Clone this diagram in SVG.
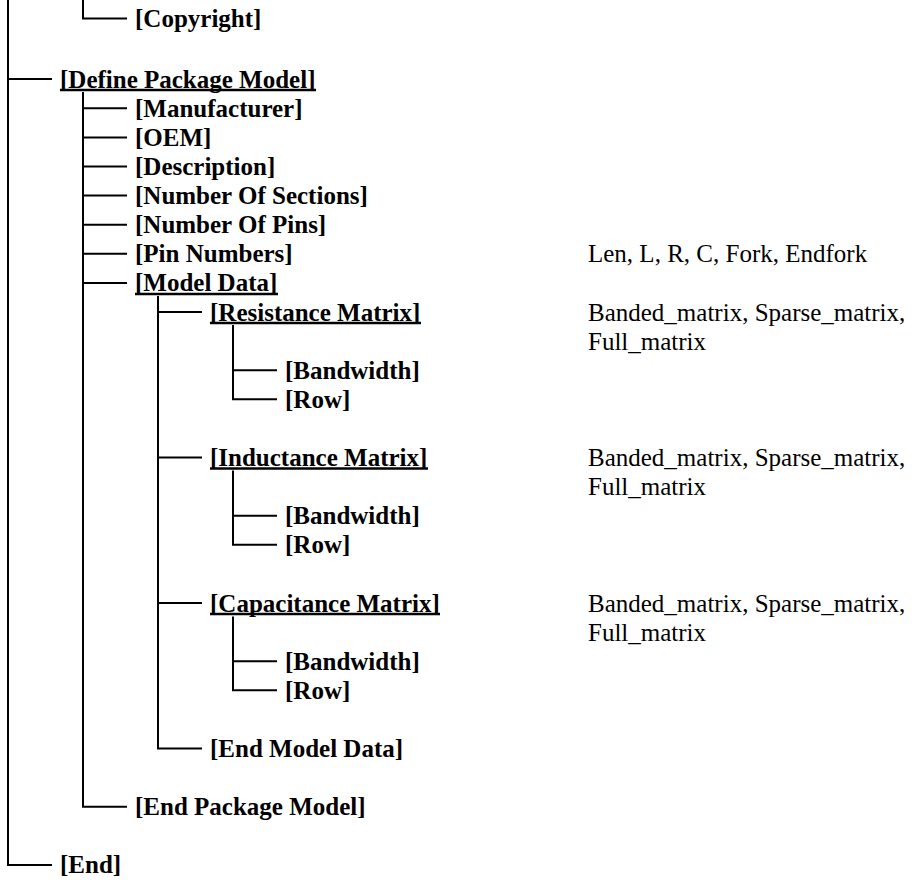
<svg xmlns="http://www.w3.org/2000/svg" width="912" height="880" viewBox="0 0 912 880">
<style>
.k{font-family:"Liberation Serif","Times New Roman",serif;font-size:25px;font-weight:bold;fill:#000}
.v{font-family:"Liberation Serif","Times New Roman",serif;font-size:25px;fill:#000}
.c{fill:none;stroke:#000;stroke-width:2}
.ul{stroke:#000;stroke-width:2.5}
</style>
<rect width="912" height="880" fill="#fff"/>
<g id="connectors" class="c">
<path d="M8 0V865H52"/>
<path d="M83 0V18.5H127"/>
<path d="M8 79H52"/>
<path d="M83 92V806.7H127"/>
<path d="M83 108.3H127M83 137.4H127M83 166.5H127M83 195.6H127M83 224.7H127M83 253.8H127M83 282.9H127"/>
<path d="M158 296V748.5H202"/>
<path d="M158 312H202M158 457.5H202M158 603H202"/>
<path d="M233 325V399.3H277M233 370.2H277"/>
<path d="M233 470.5V544.8H277M233 515.7H277"/>
<path d="M233 616.5V690.3H277M233 661.2H277"/>
</g>
<g id="n-copyright"><text class="k" x="135" y="27">[Copyright]</text></g>
<g id="n-define"><text class="k" x="60" y="87.5">[Define Package Model]</text><line class="ul" x1="60" y1="90" x2="316" y2="90"/></g>
<g id="n-manufacturer"><text class="k" x="135" y="116.8">[Manufacturer]</text></g>
<g id="n-oem"><text class="k" x="135" y="145.9">[OEM]</text></g>
<g id="n-description"><text class="k" x="135" y="175">[Description]</text></g>
<g id="n-sections"><text class="k" x="135" y="204.1">[Number Of Sections]</text></g>
<g id="n-pins"><text class="k" x="135" y="233.2">[Number Of Pins]</text></g>
<g id="n-pinnumbers"><text class="k" x="135" y="262.3">[Pin Numbers]</text><text class="v" x="588" y="262.3">Len, L, R, C, Fork, Endfork</text></g>
<g id="n-modeldata"><text class="k" x="135" y="291.4">[Model Data]</text><line class="ul" x1="135" y1="293.9" x2="278" y2="293.9"/></g>
<g id="n-resistance"><text class="k" x="210" y="320.5">[Resistance Matrix]</text><line class="ul" x1="210" y1="323" x2="421" y2="323"/><text class="v" x="588" y="320.5">Banded_matrix, Sparse_matrix,</text><text class="v" x="588" y="349.6">Full_matrix</text></g>
<g id="n-r-bandwidth"><text class="k" x="285" y="378.7">[Bandwidth]</text></g>
<g id="n-r-row"><text class="k" x="285" y="407.8">[Row]</text></g>
<g id="n-inductance"><text class="k" x="210" y="466">[Inductance Matrix]</text><line class="ul" x1="210" y1="468.5" x2="428" y2="468.5"/><text class="v" x="588" y="466">Banded_matrix, Sparse_matrix,</text><text class="v" x="588" y="495.1">Full_matrix</text></g>
<g id="n-i-bandwidth"><text class="k" x="285" y="524.2">[Bandwidth]</text></g>
<g id="n-i-row"><text class="k" x="285" y="553.3">[Row]</text></g>
<g id="n-capacitance"><text class="k" x="210" y="611.5">[Capacitance Matrix]</text><line class="ul" x1="210" y1="614" x2="440" y2="614"/><text class="v" x="588" y="611.5">Banded_matrix, Sparse_matrix,</text><text class="v" x="588" y="640.6">Full_matrix</text></g>
<g id="n-c-bandwidth"><text class="k" x="285" y="669.7">[Bandwidth]</text></g>
<g id="n-c-row"><text class="k" x="285" y="698.8">[Row]</text></g>
<g id="n-endmodeldata"><text class="k" x="210" y="757">[End Model Data]</text></g>
<g id="n-endpackage"><text class="k" x="135" y="815.2">[End Package Model]</text></g>
<g id="n-end"><text class="k" x="60" y="873.4">[End]</text></g>
</svg>
